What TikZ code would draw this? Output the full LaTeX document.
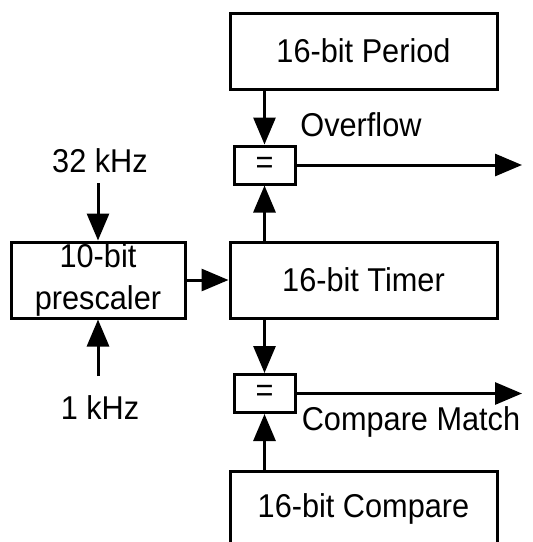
\documentclass[tikz,border=0pt]{standalone}
\usepackage{fontspec}
\setmainfont[FakeStretch=0.93]{Liberation Sans}
\usetikzlibrary{arrows.meta, positioning}

\begin{document}
\begin{tikzpicture}[x=1pt, y=-1pt, >={Triangle[length=27pt, width=22pt]},
  txt/.style={font=\fontsize{33}{42}\selectfont},
  block/.style={txt, draw, line width=3pt, minimum width=267pt, minimum height=76pt, inner sep=0pt},
  eqbox/.style={txt, draw, line width=3pt, minimum width=61pt, minimum height=38pt, inner sep=0pt},
  lbl/.style={txt, inner sep=0pt},
  sig/.style={->, line width=3pt}]

% Frame (the compare block runs off the bottom)
\clip (0,0) rectangle (533,542);

% Blocks
\node[block] (per) at (363.5,51) {16-bit Period};
\node[block] (tim) at (363.5,280) {16-bit Timer};
\node[block] (cpr) at (363.5,509) {16-bit Compare};
\node[block, minimum width=174pt, align=center] (pre) at (98,280) {10-bit\\prescaler};

% Comparators
\node[eqbox] (ovf) at (264.5,165) {=};
\node[eqbox] (cmp) at (264.5,393.5) {=};

% Labels
\node[lbl] (k32) at (100,160.5) {32 kHz};
\node[lbl] (k1) at (100,407.5) {1 kHz};
\node[lbl] (ovflbl) at (361,125) {Overflow};
\node[lbl] (cmplbl) at (411,422) {Compare Match};

% Free ends
\coordinate (in32) at (98,183);
\coordinate (in1) at (98,376);
\coordinate (ovfout) at (522,165);
\coordinate (cmpout) at (522,393.5);

% Signals
\draw[sig] (in32) -- (pre.north);
\draw[sig] (in1) -- (pre.south);
\draw[sig] (pre.east) -- (tim.west);
\draw[sig] (ovf.north |- per.south) -- (ovf.north);
\draw[sig] (ovf.south |- tim.north) -- (ovf.south);
\draw[sig] (cmp.north |- tim.south) -- (cmp.north);
\draw[sig] (cmp.south |- cpr.north) -- (cmp.south);
\draw[sig] (ovf.east) -- (ovfout);
\draw[sig] (cmp.east) -- (cmpout);

\end{tikzpicture}
\end{document}
